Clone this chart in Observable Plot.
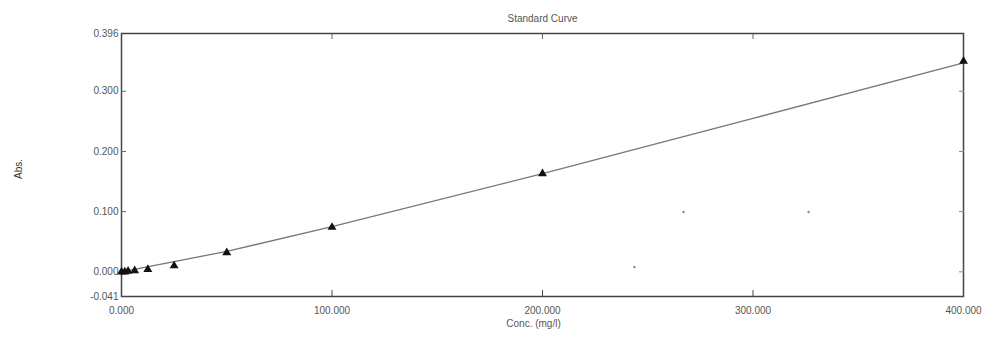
<!DOCTYPE html>
<html>
<head>
<meta charset="utf-8">
<script src="https://cdn.jsdelivr.net/npm/d3@7"></script>
<script src="https://cdn.jsdelivr.net/npm/@observablehq/plot@0.6"></script>
<style>
  html, body { margin: 0; padding: 0; background: #fff; }
  #chart { position: relative; width: 987px; height: 338px; }
  svg { font-family: "Liberation Sans", Arial, sans-serif; }
</style>
</head>
<body>
<div id="chart"></div>
<script>
// Standards (Conc. mg/l) and measured absorbance
const conc = [0, 1.5625, 3.125, 6.25, 12.5, 25, 50, 100, 200, 400];
const abs = [0.000, 0.000, 0.001, 0.002, 0.004, 0.010, 0.032, 0.074, 0.163, 0.350];
// Fitted curve
const fitConc = [0, 50, 100, 200, 300, 400];
const fitAbs = [0.000, 0.034, 0.075, 0.163, 0.255, 0.347];
// Stray dots in the plot area
const strayConc = [243.7, 267, 326.4];
const strayAbs = [0.008, 0.0995, 0.0995];
// Tick values
const xTicks = [0, 100, 200, 300, 400];
const yLabelTicks = [-0.041, 0, 0.1, 0.2, 0.3, 0.396];
const yMarkTicks = [0, 0.1, 0.2, 0.3];
const xMarkTicks = [100, 200, 300];

const points = conc.map((c, i) => ({c, a: abs[i]}));
const fit = fitConc.map((c, i) => ({c, a: fitAbs[i]}));
const stray = strayConc.map((c, i) => ({c, a: strayAbs[i]}));

const fmt = d => d3.format(".3f")(d).replace("−", "-");
const ink = "#555";

const plot = Plot.plot({
  width: 987,
  height: 338,
  marginLeft: 121,
  marginRight: 24,
  marginTop: 33,
  marginBottom: 42,
  style: {fontSize: "10px", color: ink, background: "#fff"},
  x: {domain: [0, 400]},
  y: {domain: [-0.041, 0.396]},
  marks: [
    Plot.frame({stroke: "#444", strokeWidth: 1.5}),
    Plot.axisY({ticks: yLabelTicks, tickSize: 0, tickPadding: 3, tickFormat: fmt, label: null, fill: ink}),
    Plot.axisY({anchor: "left", ticks: yMarkTicks, tickSize: -5, tickFormat: () => "", label: null, stroke: "#666"}),
    Plot.axisY({anchor: "right", ticks: yMarkTicks, tickSize: -5, tickFormat: () => "", label: null, stroke: "#888"}),
    Plot.axisX({ticks: xTicks, tickSize: 0, tickPadding: 10, tickFormat: fmt, label: null, fill: ink}),
    Plot.axisX({anchor: "bottom", ticks: xMarkTicks, tickSize: -6, tickFormat: () => "", label: null, stroke: "#444"}),
    Plot.axisX({anchor: "top", ticks: xMarkTicks, tickSize: -5, tickFormat: () => "", label: null, stroke: "#666"}),
    Plot.line(fit, {x: "c", y: "a", stroke: "#777", strokeWidth: 1.3}),
    Plot.dot(points, {x: "c", y: "a", symbol: "triangle", fill: "#111", r: 3.3}),
    Plot.dot(stray, {x: "c", y: "a", fill: "#888", r: 1.2}),
    Plot.text(["Standard Curve"], {frameAnchor: "top", dy: -19, fill: ink, fontSize: 10}),
    Plot.text(["Conc. (mg/l)"], {frameAnchor: "bottom", dx: -9, dy: 30, fill: ink, fontSize: 10}),
    Plot.text(["Abs."], {frameAnchor: "left", dx: -103, dy: 14, rotate: -90, fill: "#333", fontSize: 10})
  ]
});
document.getElementById("chart").appendChild(plot);
</script>
</body>
</html>
